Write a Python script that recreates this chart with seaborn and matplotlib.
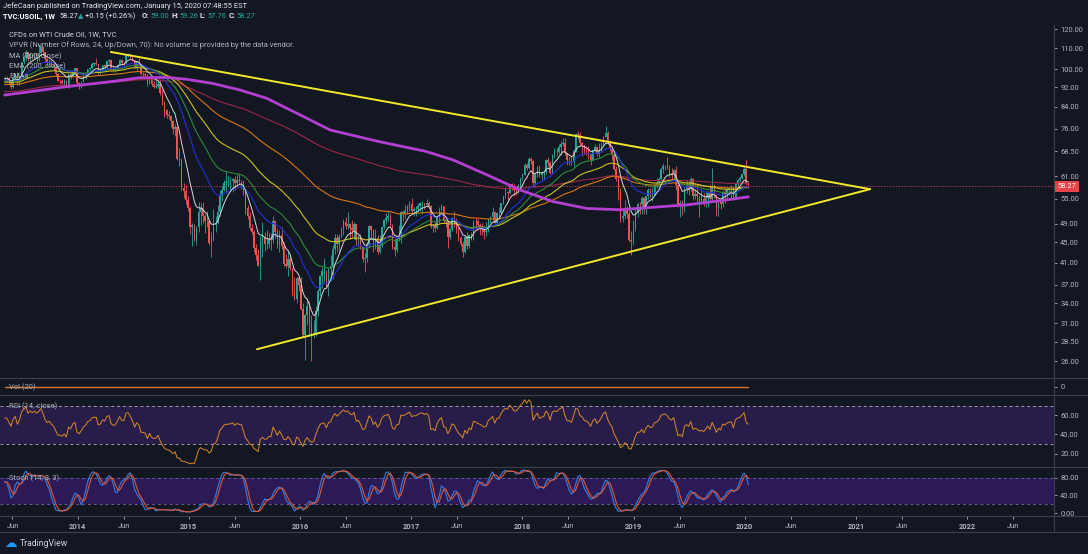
import numpy as np
import pandas as pd
import matplotlib
matplotlib.use("Agg")
import matplotlib.pyplot as plt
import matplotlib.transforms as mtransforms
from matplotlib.ticker import NullLocator, FixedLocator
from matplotlib.lines import Line2D
import seaborn as sns

# ---------------- data (weekly TVC:USOIL) ----------------
first_week = "2013-05-06"
first_open = 95.6

close_2013 = [96.04, 96.02, 94.15, 91.97, 96.03, 97.85, 93.69, 96.56, 103.22, 105.95, 108.05, 104.70,
              106.94, 106.03, 107.46, 106.42, 107.65, 110.53, 108.21, 104.67, 102.87, 103.84, 102.02,
              100.81, 97.85, 94.61, 94.60, 93.84, 94.84, 92.72, 97.65, 96.60, 99.32, 100.32, 93.96]
high_2013 = [96.9, 96.9, 96.6, 94.5, 96.3, 98.2, 98.7, 97.1, 103.5, 106.9, 109.3, 108.2, 107.5, 107.1,
             107.8, 107.3, 112.2, 110.8, 110.7, 108.2, 105.0, 104.9, 104.0, 102.5, 101.2, 98.0, 95.3,
             95.3, 95.6, 95.1, 97.9, 98.3, 99.5, 100.7, 100.7]
low_2013 = [94.0, 94.3, 93.3, 91.4, 91.7, 95.3, 93.1, 93.0, 96.0, 102.2, 104.3, 103.8, 103.7, 104.6,
            104.9, 103.0, 103.6, 106.4, 106.6, 104.0, 101.3, 101.9, 101.6, 99.6, 96.8, 94.5, 93.2,
            92.8, 93.1, 92.0, 91.8, 95.6, 96.3, 98.6, 93.3]

close_2014 = [92.72, 94.37, 96.64, 97.49, 99.88, 100.30, 102.20, 102.59, 102.58, 98.89, 99.46, 101.67,
              101.14, 103.74, 104.30, 100.60, 99.76, 99.99, 102.02, 104.35, 102.71, 102.66, 106.91,
              107.26, 105.74, 104.06, 100.83, 103.13, 102.09, 97.88, 97.65, 97.35, 93.65, 95.96, 93.29,
              92.27, 92.41, 93.54, 89.74, 85.82, 82.75, 81.01, 80.54, 78.65, 75.82, 76.51, 66.15, 65.84,
              57.81, 57.13, 54.73, 52.69]
high_2014 = [94.3, 94.8, 97.8, 98.2, 100.1, 100.8, 103.4, 103.0, 105.2, 102.5, 100.4, 101.8, 102.2,
             104.0, 104.9, 104.6, 101.2, 101.0, 102.4, 104.5, 104.8, 103.2, 107.0, 107.7, 107.0, 106.0,
             104.1, 103.8, 105.2, 102.3, 98.5, 98.4, 97.8, 96.5, 95.9, 94.6, 95.0, 94.5, 94.9, 91.2,
             86.4, 83.2, 82.5, 81.1, 79.1, 77.8, 76.9, 69.5, 66.5, 59.1, 58.6, 55.6]
low_2014 = [91.2, 91.8, 94.1, 95.4, 96.8, 99.0, 100.1, 101.2, 101.8, 97.4, 97.7, 98.9, 99.3, 99.8,
            102.8, 99.7, 99.0, 98.8, 99.4, 101.8, 101.9, 101.6, 102.3, 105.6, 105.1, 103.8, 100.7,
            99.2, 101.5, 97.2, 96.6, 96.5, 92.5, 93.3, 92.6, 91.6, 91.5, 91.8, 88.8, 84.6, 80.0, 79.8,
            79.4, 76.7, 74.3, 73.3, 65.7, 64.0, 57.3, 55.1, 53.7, 52.0]

close_2015 = [48.36, 48.69, 45.59, 48.24, 51.69, 52.78, 50.81, 49.76, 49.61, 44.84, 45.72, 48.87, 49.14,
              51.64, 55.74, 57.15, 59.15, 59.39, 59.69, 59.72, 60.30, 59.13, 59.96, 59.61, 59.63, 56.93,
              52.74, 50.89, 48.14, 47.12, 43.87, 42.50, 40.45, 45.22, 46.05, 44.63, 44.68, 45.70, 45.54,
              49.63, 47.26, 44.60, 46.59, 44.29, 40.74, 40.39, 41.71, 39.97, 35.62, 34.73, 38.10, 37.04]
high_2015 = [53.1, 49.3, 49.0, 48.6, 54.2, 53.9, 54.2, 51.3, 52.0, 50.0, 47.1, 52.5, 50.9, 53.5, 57.4,
             58.4, 59.9, 62.6, 61.0, 60.8, 60.4, 61.1, 61.6, 61.9, 60.1, 59.8, 57.0, 53.5, 51.7, 49.0,
             47.6, 44.6, 43.7, 46.4, 49.5, 47.3, 47.7, 47.0, 47.0, 50.9, 50.0, 48.0, 47.6, 48.4, 45.1,
             42.6, 43.5, 42.6, 40.0, 38.4, 38.4, 38.5]
low_2015 = [46.8, 44.2, 45.2, 44.4, 47.2, 48.7, 49.3, 47.0, 48.3, 44.4, 42.0, 45.2, 47.1, 48.9, 50.9,
            54.4, 57.0, 56.4, 58.0, 57.1, 56.8, 57.2, 58.5, 58.8, 57.5, 56.0, 51.4, 50.2, 47.6, 46.7,
            43.0, 41.4, 40.3, 37.8, 42.0, 43.2, 43.6, 43.9, 43.5, 44.9, 46.0, 43.9, 43.0, 43.6, 40.4,
            40.0, 38.6, 39.6, 35.2, 34.5, 34.0, 36.0]

close_2016 = [33.16, 29.42, 32.19, 33.62, 30.89, 29.44, 29.64, 32.78, 35.92, 38.50, 39.44, 39.46, 36.79,
              39.72, 40.36, 43.73, 45.92, 44.66, 46.21, 47.75, 49.33, 48.62, 49.07, 47.98, 47.64, 48.99,
              45.41, 45.95, 44.19, 41.60, 41.80, 44.49, 48.52, 47.64, 44.44, 45.88, 43.03, 44.48, 48.24,
              49.81, 50.35, 50.85, 48.70, 44.07, 43.41, 45.69, 46.06, 51.68, 51.50, 51.90, 53.02, 53.72]
high_2016 = [38.4, 34.0, 32.4, 34.8, 34.4, 32.2, 31.5, 33.5, 36.3, 38.7, 40.2, 41.9, 39.6, 40.0, 42.4,
             44.5, 46.8, 46.8, 46.7, 48.4, 50.2, 50.5, 51.7, 49.3, 50.0, 49.4, 49.0, 46.5, 46.8, 44.3,
             42.8, 44.9, 48.8, 48.8, 47.8, 47.8, 46.5, 46.6, 48.4, 50.1, 51.6, 51.9, 51.5, 48.9, 45.9,
             46.1, 48.8, 51.9, 52.3, 53.4, 53.4, 54.4]
low_2016 = [33.0, 29.1, 26.2, 30.8, 29.3, 26.1, 28.9, 29.3, 32.0, 35.2, 36.4, 37.5, 36.5, 35.2, 37.6,
            38.0, 42.6, 43.0, 43.0, 45.9, 46.6, 47.8, 47.9, 45.8, 46.2, 45.8, 44.4, 44.3, 43.6, 41.1,
            39.2, 41.1, 44.0, 46.0, 43.0, 43.7, 42.7, 42.8, 44.1, 47.9, 49.0, 49.4, 48.5, 43.6, 42.2,
            43.0, 45.2, 44.8, 49.6, 50.1, 51.2, 52.0]

close_2017 = [51.96, 52.37, 52.42, 53.17, 53.83, 53.86, 53.40, 53.99, 53.33, 48.49, 48.78, 47.97, 50.60,
              52.24, 53.18, 49.62, 49.33, 46.22, 47.84, 50.33, 49.80, 47.66, 45.83, 44.74, 43.01, 46.04,
              44.23, 46.54, 45.77, 49.71, 49.58, 48.82, 48.51, 47.87, 47.29, 47.48, 49.89, 50.66, 51.67,
              49.29, 51.45, 51.47, 53.90, 55.64, 56.74, 56.55, 58.95, 58.36, 57.36, 57.30, 58.47, 60.42]
high_2017 = [55.2, 53.0, 53.2, 53.9, 54.1, 54.5, 54.0, 54.9, 54.5, 53.4, 49.0, 49.4, 50.9, 52.9, 53.8,
             53.3, 50.2, 49.5, 48.1, 50.6, 52.0, 50.3, 48.4, 46.3, 45.3, 46.4, 47.3, 46.6, 47.3, 49.8,
             50.4, 50.2, 49.2, 49.2, 48.6, 49.4, 50.3, 50.9, 52.9, 52.0, 51.8, 52.9, 54.0, 55.7, 57.7,
             57.1, 59.0, 59.1, 58.8, 58.4, 58.9, 60.5]
low_2017 = [51.5, 50.7, 50.9, 52.0, 52.1, 51.2, 52.4, 53.0, 52.9, 48.1, 47.1, 47.1, 47.8, 49.3, 52.1,
            49.2, 48.2, 43.8, 45.6, 47.5, 48.2, 47.0, 45.2, 44.2, 42.1, 42.9, 43.6, 43.8, 45.4, 45.4,
            48.4, 48.1, 46.5, 46.5, 45.6, 46.3, 47.1, 49.3, 49.7, 49.1, 49.0, 50.6, 51.3, 53.7, 55.2,
            54.8, 56.3, 57.2, 55.8, 56.1, 56.6, 57.6]

close_2018 = [61.44, 64.30, 63.37, 66.14, 65.45, 59.20, 61.68, 63.55, 61.25, 62.04, 62.34, 65.88, 64.94,
              62.06, 67.39, 68.38, 68.10, 69.72, 70.70, 71.28, 67.88, 65.81, 65.74, 65.06, 68.58, 74.15,
              73.80, 71.01, 70.46, 68.69, 68.49, 67.63, 65.91, 68.72, 69.80, 67.75, 68.99, 70.78, 73.25,
              74.34, 71.34, 69.12, 67.59, 63.14, 60.19, 56.46, 50.42, 50.93, 52.61, 51.20, 45.59, 45.33,
              47.96]
high_2018 = [61.9, 64.8, 64.9, 66.7, 66.6, 65.9, 61.9, 63.9, 64.2, 62.5, 62.6, 66.0, 66.6, 65.4, 67.6,
             69.6, 69.6, 70.8, 71.9, 72.9, 72.8, 68.0, 66.6, 67.1, 69.3, 74.5, 75.3, 74.7, 71.4, 70.4,
             70.3, 70.0, 67.9, 69.0, 70.7, 70.3, 71.1, 71.4, 73.5, 76.9, 75.0, 72.2, 70.1, 67.9, 64.0,
             61.2, 57.7, 52.8, 54.6, 53.3, 51.9, 47.4, 49.8]
low_2018 = [59.9, 61.4, 62.9, 63.0, 64.5, 58.1, 58.1, 60.8, 60.7, 59.9, 60.2, 61.6, 64.0, 61.8, 61.9,
            66.3, 67.1, 67.5, 67.3, 70.1, 67.4, 64.2, 64.2, 64.4, 63.6, 68.3, 72.4, 70.1, 67.0, 67.6,
            67.4, 66.1, 64.4, 65.6, 68.4, 66.9, 66.7, 68.3, 70.6, 73.1, 70.8, 68.5, 65.7, 62.7, 59.8,
            54.8, 49.4, 49.4, 50.1, 50.3, 45.1, 42.4, 44.5]

close_2019 = [51.59, 53.80, 53.69, 55.26, 52.72, 55.59, 57.26, 55.80, 56.07, 58.52, 59.04, 60.14, 63.08,
              63.89, 64.00, 63.30, 61.94, 61.66, 62.76, 58.63, 53.50, 53.99, 52.51, 57.43, 58.47, 57.51,
              60.21, 55.63, 56.20, 55.66, 54.50, 54.87, 54.17, 55.10, 56.52, 54.85, 58.09, 55.91, 52.81,
              54.70, 53.78, 56.66, 56.20, 57.24, 57.72, 57.77, 55.17, 59.20, 60.07, 60.44, 61.72, 63.05]
high_2019 = [52.5, 54.2, 54.2, 55.8, 55.5, 55.8, 57.8, 57.9, 57.9, 58.9, 60.4, 60.7, 63.5, 64.8, 64.4,
             66.6, 64.2, 63.5, 63.0, 64.0, 58.8, 54.8, 54.8, 58.0, 59.9, 60.0, 60.9, 60.5, 57.5, 58.8,
             55.8, 57.5, 56.5, 56.9, 57.0, 58.8, 63.4, 59.0, 56.0, 55.0, 54.9, 56.9, 57.5, 57.9, 57.9,
             58.7, 58.2, 59.3, 60.3, 61.0, 61.8, 63.8]
low_2019 = [47.5, 50.5, 51.3, 51.3, 51.2, 51.2, 55.0, 55.1, 54.5, 55.9, 57.8, 58.1, 59.9, 61.9, 62.8,
            63.0, 60.8, 60.0, 60.2, 57.3, 52.9, 50.6, 51.0, 51.8, 56.6, 55.9, 56.9, 54.8, 55.0, 53.6,
            50.5, 53.6, 53.2, 52.9, 52.9, 54.5, 54.8, 55.2, 50.9, 50.9, 52.5, 53.0, 53.9, 54.9, 56.1,
            54.9, 54.8, 55.0, 58.2, 59.4, 60.2, 61.2]

close_2020 = [59.04, 58.27]
high_2020 = [65.65, 59.26]
low_2020 = [58.7, 57.76]

# 200-week simple MA (magenta)
sma200_dates = ["2013-05-06", "2013-07-29", "2013-11-26", "2014-04-17", "2014-07-25", "2014-10-21",
                "2014-12-25", "2015-03-20", "2015-06-18", "2015-09-14", "2016-01-01", "2016-04-10",
                "2016-09-21", "2017-02-15", "2017-05-18", "2017-09-07", "2017-12-24", "2018-04-12",
                "2018-08-01", "2018-11-17", "2019-03-06", "2019-06-26", "2019-10-12", "2020-01-13"]
sma200_values = [88.7, 90.1, 92.2, 94.3, 96.1, 96.2, 95.4, 93.6, 90.8, 87.4, 81.0, 75.5, 71.5, 68.5,
                 65.8, 61.4, 57.3, 54.3, 52.6, 52.3, 52.9, 53.5, 54.5, 55.5]

# EMA set: periods, starting values read at the first bar, colours, widths
ema_periods = [200, 100, 55, 34, 21, 8]
ema_seeds = [90.0, 93.0, 94.0, 94.5, 95.0, 95.5]
ema_colors = ["#9b2748", "#d8760e", "#c8c21e", "#2f8a3a", "#2330d8", "#d6d6d6"]
ema_widths = [0.8, 0.8, 0.8, 0.8, 0.8, 0.7]

# RSI starting averages (gain, loss) matching the first RSI reading (~57)
rsi_seed = [1.2, 0.9]

# drawn triangle trend lines (date, price)
upper_line_dates = ["2014-04-20", "2021-02-16"]
upper_line_prices = [108.2, 57.5]
lower_line_dates = ["2015-08-13", "2021-02-16"]
lower_line_prices = [27.5, 57.5]

last_price = 58.27
price_ticks = [120, 110, 100, 92, 84, 76, 68.5, 61, 55, 49, 45, 41, 37, 34, 31, 28.5, 26]
rsi_ticks = [60, 40, 20]
stoch_ticks = [80, 40, 0]
x_tick_dates = ["2013-06-01", "2014-01-01", "2014-06-01", "2015-01-01", "2015-06-01", "2016-01-01",
                "2016-06-01", "2017-01-01", "2017-06-01", "2018-01-01", "2018-06-01", "2019-01-01",
                "2019-06-01", "2020-01-01", "2020-06-01", "2021-01-01", "2021-06-01", "2022-01-01",
                "2022-06-01"]
x_tick_labels = ["Jun", "2014", "Jun", "2015", "Jun", "2016", "Jun", "2017", "Jun", "2018", "Jun",
                 "2019", "Jun", "2020", "Jun", "2021", "Jun", "2022", "Jun"]

# ---------------- assemble ----------------
closes = np.array(close_2013 + close_2014 + close_2015 + close_2016 + close_2017 + close_2018 + close_2019 + close_2020)
highs = np.array(high_2013 + high_2014 + high_2015 + high_2016 + high_2017 + high_2018 + high_2019 + high_2020)
lows = np.array(low_2013 + low_2014 + low_2015 + low_2016 + low_2017 + low_2018 + low_2019 + low_2020)
if not (len(closes) == len(highs) == len(lows)):
    raise SystemExit(f"length mismatch {len(closes)} {len(highs)} {len(lows)}")
n = len(closes)
dates = pd.date_range(first_week, periods=n, freq="7D")
opens = np.concatenate([[first_open], closes[:-1]])
highs = np.maximum(highs, np.maximum(opens, closes))
lows = np.minimum(lows, np.minimum(opens, closes))
df = pd.DataFrame({"date": dates, "open": opens, "high": highs, "low": lows, "close": closes})

# indicators
def ema_from(values, period, seed):
    a = 2.0 / (period + 1)
    out, v = [], seed
    for c in values:
        v = v + a * (c - v)
        out.append(v)
    return np.array(out)

def rsi_from(values, period, seed_gain, seed_loss):
    g, l = seed_gain, seed_loss
    prev = values[0]
    out = []
    for c in values:
        d = c - prev
        prev = c
        g = (g * (period - 1) + max(d, 0)) / period
        l = (l * (period - 1) + max(-d, 0)) / period
        out.append(100 - 100 / (1 + g / l) if l > 0 else 100.0)
    return np.array(out)

cs = df["close"]
df["rsi"] = rsi_from(cs.values, 14, rsi_seed[0], rsi_seed[1])
ll = df["low"].rolling(14, min_periods=1).min()
hh = df["high"].rolling(14, min_periods=1).max()
kraw = 100 * (cs - ll) / (hh - ll)
df["k"] = kraw.rolling(3, min_periods=1).mean()
df["d"] = df["k"].rolling(3, min_periods=1).mean()
df["vol"] = 0.0

# ---------------- figure ----------------
BG = "#131722"
TXT = "#b2b5be"
SEP = "#3b3f4b"
sns.set_theme(style="dark", rc={"axes.facecolor": BG, "figure.facecolor": BG})
plt.rcParams["font.family"] = ["Roboto", "DejaVu Sans"]

W, H = 1088, 554
fig = plt.figure(figsize=(W / 100, H / 100), dpi=100, facecolor=BG)

def rect(x0, y0, x1, y1):
    return [x0 / W, 1 - y1 / H, (x1 - x0) / W, (y1 - y0) / H]

ax = fig.add_axes(rect(0, 25, 1054, 378))
axv = fig.add_axes(rect(0, 378, 1054, 395), sharex=ax)
axr = fig.add_axes(rect(0, 395, 1054, 467), sharex=ax)
axs = fig.add_axes(rect(0, 467, 1054, 516), sharex=ax)

for a in (ax, axv, axr, axs):
    a.set_facecolor(BG)
    a.grid(False)
    for sp in a.spines.values():
        sp.set_visible(False)
    a.tick_params(axis="both", colors=TXT, labelsize=5.4, length=2.5, width=0.6, pad=2)
    a.yaxis.tick_right()

# main price panel
ax.set_yscale("log")
up = df["close"] >= df["open"]
ccol = np.where(up, "#26a69a", "#ef5350")
ax.vlines(df["date"], df["low"], df["high"], colors=ccol, lw=0.6, zorder=2)
body_lo = np.minimum(df["open"], df["close"])
body_h = np.maximum(np.abs(df["close"] - df["open"]), 0.12)
ax.bar(df["date"], body_h, bottom=body_lo, width=4.8, color=ccol, linewidth=0, zorder=3)

ax.axhline(last_price, color="#ef5350", lw=0.6, ls=(0, (1.5, 2)), alpha=0.85, zorder=1)

for p, s0, col, lw in zip(ema_periods, ema_seeds, ema_colors, ema_widths):
    sns.lineplot(x=df["date"], y=ema_from(df["close"].values, p, s0), ax=ax, color=col,
                 linewidth=lw, legend=False, zorder=4)
sns.lineplot(x=pd.to_datetime(sma200_dates), y=sma200_values, ax=ax, color="#b33fd0",
             linewidth=2.0, legend=False, zorder=5)
sns.lineplot(x=pd.to_datetime(upper_line_dates), y=upper_line_prices, ax=ax, color="#f2e82c",
             linewidth=1.4, legend=False, zorder=6)
sns.lineplot(x=pd.to_datetime(lower_line_dates), y=lower_line_prices, ax=ax, color="#f2e82c",
             linewidth=1.4, legend=False, zorder=6)

ax.set_ylim(24.09, 122.5)
ax.yaxis.set_major_locator(FixedLocator(price_ticks))
ax.yaxis.set_minor_locator(NullLocator())
ax.set_yticklabels([f"{t:.2f}" for t in price_ticks])
ax.set_xlabel("")
ax.set_ylabel("")
ax.tick_params(axis="x", which="both", bottom=False, labelbottom=False)

trans = mtransforms.blended_transform_factory(ax.transAxes, ax.transData)
ax.text(1.0035, last_price, f"{last_price:.2f}", transform=trans, ha="left", va="center",
        fontsize=5.4, color="white", zorder=10, clip_on=False,
        bbox=dict(boxstyle="square,pad=0.3", fc="#e8434a", ec="none"))

# volume panel
sns.lineplot(x=df["date"], y=df["vol"], ax=axv, color="#e0742a", linewidth=1.0, legend=False)
axv.set_ylim(-1, 1)
axv.set_yticks([0])
axv.set_yticklabels(["0"])
axv.set_xlabel("")
axv.set_ylabel("")
axv.tick_params(axis="x", bottom=False, labelbottom=False)

# RSI panel
axr.axhspan(30, 70, color="#281c49", zorder=0, lw=0)
axr.axhline(70, color="#9a9ca6", lw=0.7, ls=(0, (3, 3)))
axr.axhline(30, color="#9a9ca6", lw=0.7, ls=(0, (3, 3)))
sns.lineplot(x=df["date"], y=df["rsi"], ax=axr, color="#d98a22", linewidth=0.7, legend=False)
axr.set_ylim(5.98, 81.17)
axr.set_yticks(rsi_ticks)
axr.set_yticklabels([f"{t:.2f}" for t in rsi_ticks])
axr.set_xlabel("")
axr.set_ylabel("")
axr.tick_params(axis="x", bottom=False, labelbottom=False)

# Stochastic panel
axs.axhspan(20, 80, color="#2c1a56", zorder=0, lw=0)
axs.axhline(80, color="#6b5a98", lw=0.7, ls=(0, (3, 3)))
axs.axhline(20, color="#6b5a98", lw=0.7, ls=(0, (3, 3)))
sns.lineplot(x=df["date"], y=df["k"], ax=axs, color="#2f80e6", linewidth=0.8, legend=False)
sns.lineplot(x=df["date"], y=df["d"], ax=axs, color="#e4552c", linewidth=0.8, legend=False)
axs.set_ylim(-6.4, 104.1)
axs.set_yticks(stoch_ticks)
axs.set_yticklabels([f"{t:.2f}" for t in stoch_ticks])
axs.set_ylabel("")
axs.set_xlabel("")

xt = pd.to_datetime(x_tick_dates)
axs.set_xticks(xt)
axs.set_xticklabels(x_tick_labels)
for lab in axs.get_xticklabels():
    if lab.get_text().isdigit():
        lab.set_fontweight("bold")
axs.tick_params(axis="x", bottom=True, labelbottom=True, length=2, pad=3, colors=TXT, labelsize=5.4)
ax.set_xlim(pd.Timestamp("2013-04-21"), pd.Timestamp("2022-10-13"))

# separators / frame
def hline(y, x0=0, x1=W):
    fig.add_artist(Line2D([x0 / W, x1 / W], [1 - y / H, 1 - y / H], color=SEP, lw=0.8))
def vline(x, y0, y1):
    fig.add_artist(Line2D([x / W, x / W], [1 - y0 / H, 1 - y1 / H], color=SEP, lw=0.8))
for yy in (378, 395, 467, 516, 532):
    hline(yy)
vline(1054, 25, 532)

# texts
def ftext(x, y, s, **kw):
    kw.setdefault("fontsize", 5.4)
    kw.setdefault("color", TXT)
    fig.text(x / W, 1 - y / H, s, ha="left", va="center", **kw)

ftext(3, 6.5, "JefeCaan published on TradingView.com, January 15, 2020 07:48:55 EST", color="#e6e8ee")
ftext(3, 16.5, "TVC:USOIL, 1W", color="#ffffff", fontweight="bold")
ftext(59, 16.5, "58.27", color="#e6e8ee")
ftext(78, 16.5, "▲", color="#26a69a", fontsize=5.0, family=["DejaVu Sans"])
ftext(85, 16.5, "+0.15 (+0.26%)", color="#e6e8ee")
teal = "#26a69a"
for xl, lab, xv, val in [(142, "O:", 150, "59.00"), (172, "H:", 179, "59.26"),
                         (200, "L:", 207, "57.76"), (229, "C:", 236, "58.27")]:
    ftext(xl, 16.5, lab, color="#e6e8ee", fontweight="bold")
    ftext(xv, 16.5, val, color=teal)

ftext(9, 35, "CFDs on WTI Crude Oil, 1W, TVC", color="#d1d4dc")
ftext(9, 45.5, "VPVR (Number Of Rows, 24, Up/Down, 70): No volume is provided by the data vendor.")
ftext(9, 56, "MA (200, close)")
ftext(9, 66, "EMA (200, close)")
ftext(9, 76.5, "EMAs")

ftext(9, 387, "Vol (20)")
ftext(9, 406, "RSI (14, close)")
ftext(9, 478, "Stoch (14, 3, 3)")

ftext(4, 543, "☁", color="#2196f3", fontsize=9, family=["DejaVu Sans"])
ftext(20, 543, "TradingView", color="#d1d4dc", fontsize=6.2)

fig.savefig("out.png", dpi=100, facecolor=BG)
